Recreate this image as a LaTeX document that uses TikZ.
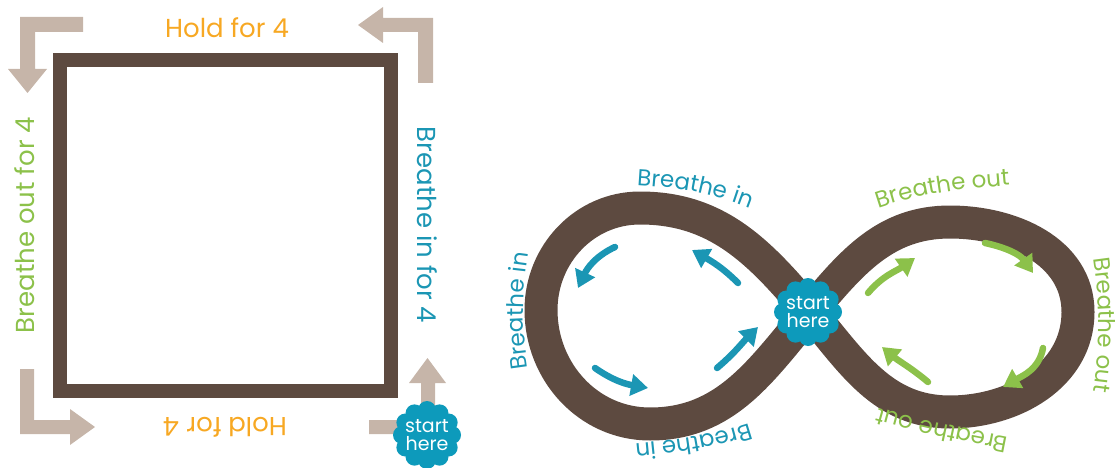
\documentclass[tikz,border=0pt]{standalone}
\usepackage{fontspec}
\setmainfont{Poppins}
\usetikzlibrary{arrows.meta,decorations.text}
\definecolor{brownc}{HTML}{5D4A40}
\definecolor{tanc}{HTML}{C6B5A9}
\definecolor{orangec}{HTML}{F7A823}
\definecolor{bluec}{HTML}{1B96B4}
\definecolor{greenc}{HTML}{8CC14A}
\definecolor{blobc}{HTML}{0D9ABB}
\newcommand\sqfont{\fontsize{26}{26}\selectfont}
\newcommand\crvfont{\fontsize{23}{23}\selectfont}
\newcommand\blobfont{\fontsize{19}{18}\selectfont}
\begin{document}
\begin{tikzpicture}[x=1pt,y=1pt,
  bandsq/.style={draw=brownc, line width=14pt},
  band/.style={draw=brownc, line width=33pt, line join=round},
  turnarrow/.style={fill=tanc},
  sqlabel/.style={font=\sqfont, inner sep=0pt},
  flowblue/.style={draw=bluec, line width=6.5pt, line cap=round, -{Triangle[width=21pt,length=17pt]}},
  flowgreen/.style={draw=greenc, line width=6.5pt, line cap=round, -{Triangle[width=21pt,length=17pt]}},
  startlabel/.style={font=\blobfont, text=white, align=center, inner sep=0pt},
  blob/.pic={\fill[blobc] (0,0) circle (26);
    \foreach \a in {0,30,...,330} \fill[blobc] (\a:25) circle (9);}
]
\useasboundingbox (0,0) rectangle (1119,467);

% ---------- square ----------
\draw[bandsq] (60,76) rectangle (391,407);

% corner turn arrows
\fill[turnarrow] (83,450) -- (20,450) -- (20,398) -- (8,398) -- (27.5,374) -- (47,398) -- (35,398) -- (35,435) -- (83,435) -- cycle;
\fill[turnarrow] (433,384) -- (433,449) -- (383,449) -- (383,460) -- (358,442) -- (383,424) -- (383,435) -- (418,435) -- (418,384) -- cycle;
\fill[turnarrow] (20,98) -- (20,33) -- (70,33) -- (70,22) -- (95,40) -- (70,58) -- (70,47) -- (34,47) -- (34,98) -- cycle;
\fill[turnarrow] (369,47) -- (369,33) -- (435,33) -- (435,84) -- (446,84) -- (427.5,109) -- (409,84) -- (421,84) -- (421,47) -- cycle;

\node[sqlabel, text=orangec] (holdtop) at (227,439) {Hold for 4};
\node[sqlabel, text=orangec, rotate=180] (holdbot) at (225,40) {Hold for 4};
\node[sqlabel, text=bluec, rotate=-90] (inlab) at (427,242) {Breathe in for 4};
\node[sqlabel, text=greenc, rotate=90] (outlab) at (25,242) {Breathe out for 4};

\pic at (427,32) {blob};
\node[startlabel] (start1) at (427,32) {start\\here};

% ---------- infinity ----------
\coordinate (X) at (810,155);
\coordinate (LT) at (640,259);
\coordinate (LL) at (541,157);
\coordinate (LB) at (650,43);
\coordinate (RT) at (950,245);
\coordinate (RR) at (1078,155);
\coordinate (RB) at (950,55);
\draw[band] (X) to[out=130,in=0] (LT) to[out=180,in=90] (LL) to[out=-90,in=180] (LB)
  to[out=0,in=-130] (X) to[out=50,in=180] (RT) to[out=0,in=90] (RR)
  to[out=-90,in=0] (RB) to[out=180,in=-50] (X);

% flow arrows
\draw[flowblue] (615,220) to[out=205,in=65] (578,179);
\draw[flowblue] (738,184) to[out=135,in=-30] (692,217);
\draw[flowblue] (595,99) to[out=-35,in=170] (648,79);
\draw[flowblue] (717,99) to[out=40,in=-135] (758,140);
\draw[flowgreen] (868,174) to[out=50,in=-145] (915,209);
\draw[flowgreen] (985,224) to[out=-12,in=125] (1033,194);
\draw[flowgreen] (1043,119) to[out=-100,in=30] (1003,80);
\draw[flowgreen] (928,85) to[out=140,in=-40] (882,120);

% curved labels
\path[decorate, decoration={text along path, text align=center,
  text={|\crvfont\color{bluec}|Breathe in}}] (610,283) to[out=-2,in=155] (775,248);
\path[decorate, decoration={text along path, text align=center,
  text={|\crvfont\color{bluec}|Breathe in}}] (531,80) to[out=100,in=-100] (531,232);
\path[decorate, decoration={text along path, text align=center,
  text={|\crvfont\color{bluec}|Breathe in}}] (782,56) to[out=202,in=5] (600,20);
\path[decorate, decoration={text along path, text align=center,
  text={|\crvfont\color{greenc}|Breathe out}}] (855,250) to[out=22,in=185] (1035,284);
\path[decorate, decoration={text along path, text align=center,
  text={|\crvfont\color{greenc}|Breathe out}}] (1089,237) to[out=-80,in=80] (1089,47);
\path[decorate, decoration={text along path, text align=center,
  text={|\crvfont\color{greenc}|Breathe out}}] (1038,24) to[out=168,in=-18] (850,68);

\pic at (808,155) {blob};
\node[startlabel] (start2) at (808,155) {start\\here};
\end{tikzpicture}
\end{document}
